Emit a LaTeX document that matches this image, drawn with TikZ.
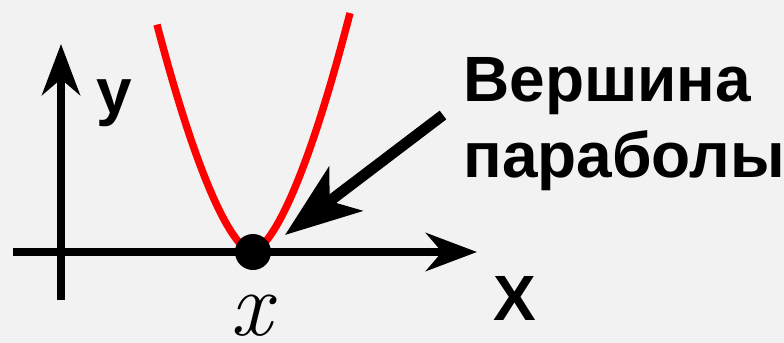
\documentclass[tikz,border=0pt]{standalone}
\usepackage{fontspec}
\setmainfont{Liberation Sans}
\newfontfamily\valfont{Latin Modern Roman}
\usetikzlibrary{arrows.meta}
\definecolor{vpback}{HTML}{F2F2F2}
\definecolor{vpred}{HTML}{FF0000}
\tikzset{
 vp axis/.style={line width=4pt,-{Stealth[length=25.5pt,width=19pt,inset=8pt]}},
 vp curve/.style={line width=3.7pt,vpred},
 vp vertex/.style={circle,fill=black,draw=none,minimum size=18pt,
                   inner sep=0pt,outer sep=0pt},
 vp pointer/.style={line width=5.5pt,-{Stealth[length=38pt,width=27.5pt,inset=10pt]}},
 vp axis label/.style={font=\bfseries\fontsize{32}{32}\selectfont,inner sep=0pt},
 vp note/.style={font=\bfseries\fontsize{32}{38}\selectfont,inner sep=0pt,align=left},
 vp value/.style={font=\valfont\itshape\fontsize{46}{46}\selectfont,inner sep=0pt}
}
\begin{document}
\begin{tikzpicture}[x=0.5pt,y=-0.5pt]
 \fill[vpback] (0,0) rectangle (784,343);
 \useasboundingbox (0,0) rectangle (784,343);
 % parabola
 \draw[vp curve] plot[domain=-95:98,samples=121]
   ({252+\x},{252-0.163*exp(1.59*ln(abs(\x)+0.01))});
 % axes
 \coordinate (hx0) at (13,252);
 \coordinate (hx1) at (477,252);
 \coordinate (vy0) at (61,300);
 \coordinate (vy1) at (61,44);
 \draw[vp axis] (hx0)--(hx1);
 \draw[vp axis] (vy0)--(vy1);
 \node[vp axis label,anchor=base west] (ylbl) at (96,113) {y};
 \node[vp axis label,anchor=base] (xlbl) at (515,320) {X};
 % vertex
 \node[vp vertex] (vert) at (253,252) {};
 \node[vp value,anchor=base] (xval) at (251.5,335) {x};
 % label and pointer
 \node[vp note,anchor=north west] (note) at (463,57) {Вершина\\параболы};
 \coordinate (ptail) at (443,115);
 \coordinate (ptip) at (285,235);
 \draw[vp pointer] (ptail)--(ptip);
\end{tikzpicture}
\end{document}
